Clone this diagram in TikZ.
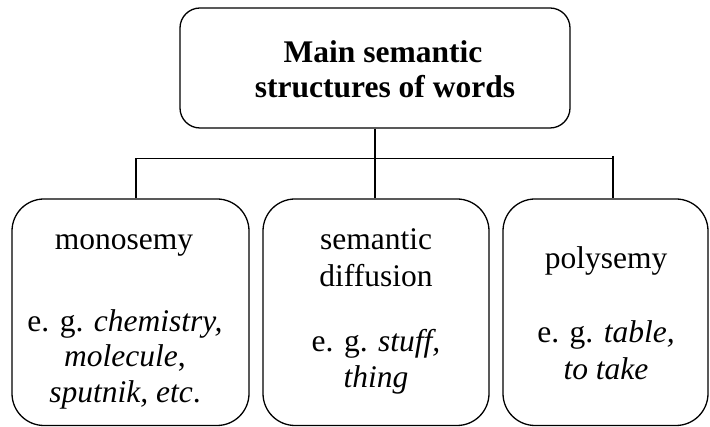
\documentclass[tikz,border=0pt]{standalone}
\usepackage{fontspec}
\setmainfont{Liberation Serif}
\begin{document}
\begin{tikzpicture}[x=1pt,y=-1pt,
  box/.style={draw, line width=1.3pt, rounded corners=32pt, inner sep=0pt},
  txt/.style={anchor=base, inner sep=0pt, font=\fontsize{31.5}{36}\selectfont},
  wire/.style={line width=1.3pt}]
\useasboundingbox (0,0) rectangle (710,427);

% root box
\node[box, rounded corners=20pt, minimum width=390pt, minimum height=120pt] (root) at (375,68) {};
\node[txt] (t1) at (383,63) {\bfseries Main semantic};
\node[txt] (t2) at (385,98) {\bfseries structures of words};

% child boxes
\node[box, minimum width=237pt, minimum height=226.5pt] (mono) at (130.5,312.25) {};
\node[box, minimum width=226pt, minimum height=226.5pt] (diff) at (376,312.25) {};
\node[box, minimum width=205pt, minimum height=226.5pt] (poly) at (605.5,312.25) {};

% monosemy
\node[txt] (m1) at (124,250) {monosemy};
\node[txt] (m2) at (125,332) {e. g. \textit{chemistry,}};
\node[txt] (m3) at (125,367) {\textit{molecule},};
\node[txt] (m4) at (125,403) {\textit{sputnik, etc}.};

% semantic diffusion
\node[txt] (d1) at (376,250) {semantic};
\node[txt] (d2) at (376,287) {diffusion};
\node[txt] (d3) at (376,352) {e. g. \textit{stuff,}};
\node[txt] (d4) at (376,388) {\textit{thing}};

% polysemy
\node[txt] (p1) at (606,269) {polysemy};
\node[txt] (p2) at (606,343) {e. g. \textit{table,}};
\node[txt] (p3) at (606,380) {\textit{to take}};

% connectors
\coordinate (jl) at (136,158.5);
\coordinate (jr) at (613,158.5);
\coordinate (jrt) at (613,156);
\draw[wire] (root.south) -- (root.south |- diff.north);
\draw[wire] (jl |- mono.north) -- (jl) -- (jr);
\draw[wire] (jrt) -- (jr |- poly.north);
\end{tikzpicture}
\end{document}
